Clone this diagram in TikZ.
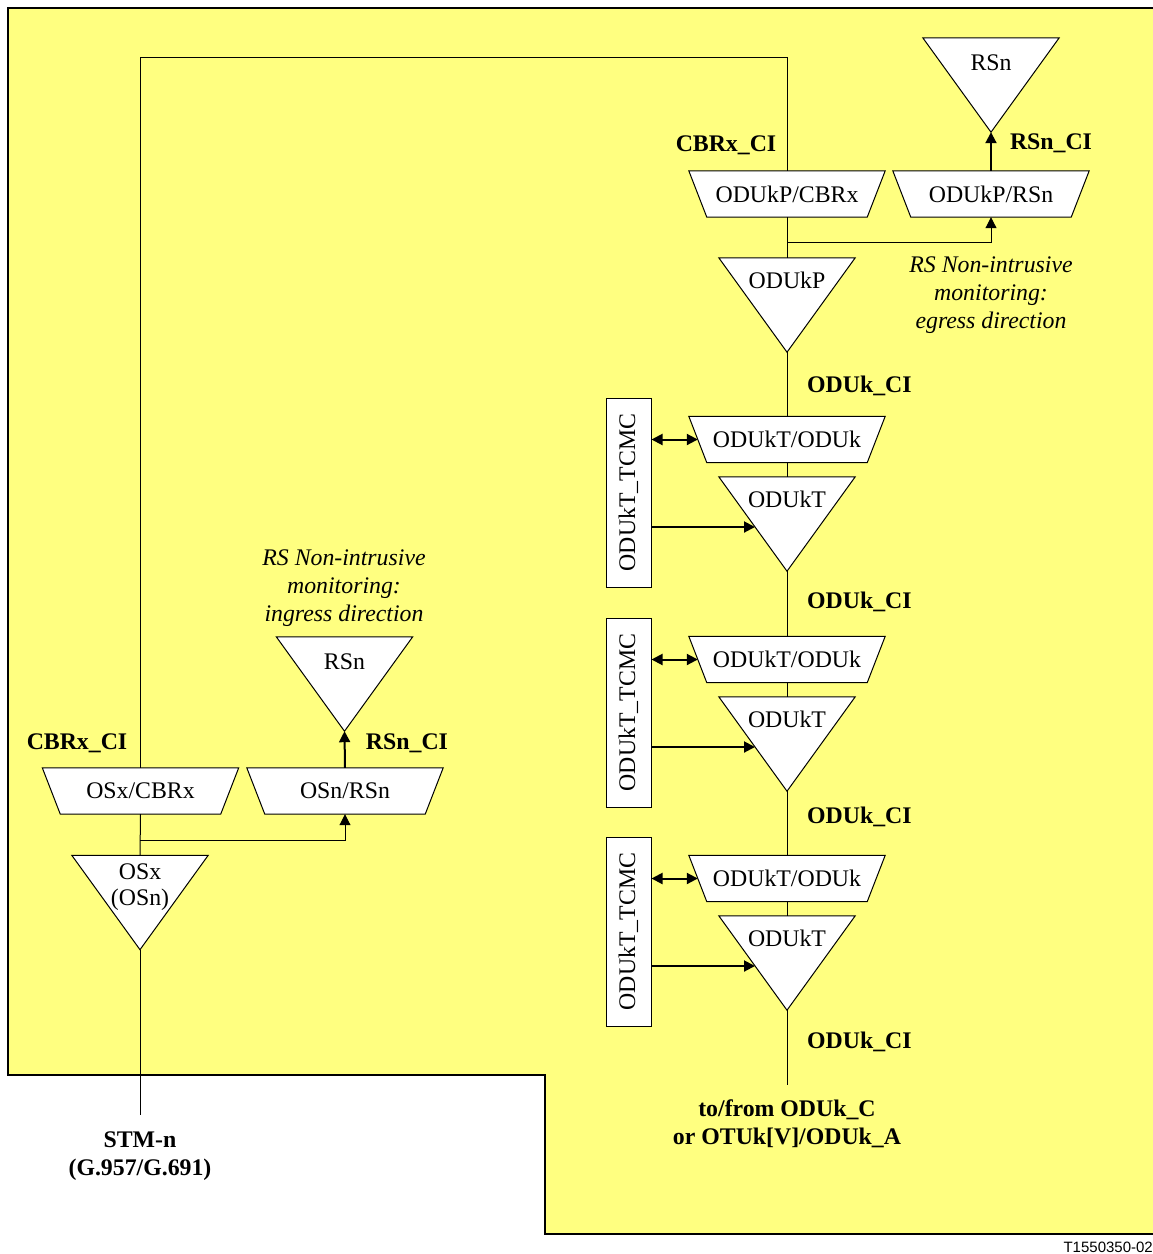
\documentclass[tikz,border=0pt]{standalone}
\usepackage{fontspec}
\setmainfont{Liberation Serif}
\setsansfont{Liberation Sans}
\usetikzlibrary{arrows.meta}
\pgfdeclarelayer{bg}
\pgfdeclarelayer{shp}
\pgfsetlayers{bg,shp,main}
\definecolor{pale}{RGB}{255,255,128}
\newcommand\trapz[4]{%
  \node[trapbox] (#1) at (#2,#3) {#4};
  \begin{pgfonlayer}{shp}
    \draw[outline] (#1.north west) -- (#1.north east) -- ([xshift=-18pt]#1.south east) -- ([xshift=18pt]#1.south west) -- cycle;
  \end{pgfonlayer}}
\newcommand\tria[5]{%
  \node[tribox] (#1) at (#2,#3) {};
  \begin{pgfonlayer}{shp}
    \draw[outline] (#1.north west) -- (#1.north east) -- (#1.south) -- cycle;
  \end{pgfonlayer}
  \node[txt, align=center] (#1t) at ([yshift=-#5pt]#1.north) {#4};}
\begin{document}
\begin{tikzpicture}[x=1pt,y=-1pt,
  txt/.style={font=\fontsize{23.8}{26.5}\selectfont, inner sep=0pt},
  lbl/.style={font=\fontsize{23.8}{27.5}\selectfont\bfseries, inner sep=0pt},
  ital/.style={font=\fontsize{23.8}{28}\selectfont\itshape, inner sep=0pt, align=center},
  trapbox/.style={minimum width=196pt, minimum height=46pt, inner sep=0pt, font=\fontsize{23.8}{28}\selectfont},
  tribox/.style={minimum width=136pt, minimum height=94pt, inner sep=0pt},
  outline/.style={draw=black, line width=1pt, fill=white},
  wire/.style={line width=1pt},
  tip/.tip={Triangle[length=11pt,width=11pt]},
  arr/.style={line width=1pt, -tip},
  thickarr/.style={line width=2pt, -tip},
  dblarr/.style={line width=2pt, tip-tip},
  tcmcbox/.style={draw=black, line width=1pt, fill=white, minimum width=45pt, minimum height=189pt, inner sep=0pt}
]
\useasboundingbox (0,0) rectangle (1153,1254);
\begin{pgfonlayer}{bg}
  \fill[pale] (8,8) -- (1153,8) -- (1153,1234) -- (545,1234) -- (545,1075) -- (8,1075) -- cycle;
  \draw[line width=1.5pt] (1153,8) -- (8,8) -- (8,1075) -- (545,1075) -- (545,1234) -- (1153,1234);
\end{pgfonlayer}

% left column
\trapz{oscbrx}{140.5}{791}{OSx/CBRx}
\trapz{osrsn}{345}{791}{OSn/RSn}
\tria{osx}{140}{902.5}{OSx\\(OSn)}{32}
\tria{rsnl}{344.5}{684}{RSn}{25}
\coordinate (stm) at (140,1115);
\coordinate (brl) at (140,840);
\coordinate (top) at (787,57);

% right column
\trapz{pcbrx}{787}{194}{ODUkP/CBRx}
\trapz{prsn}{991}{194}{ODUkP/RSn}
\tria{rsnr}{991}{85}{RSn}{25}
\tria{odukp}{787}{305}{ODUkP}{23}
\coordinate (brr) at (787,242);
\coordinate (endr) at (787,1085);

\foreach \i/\d in {1/0,2/220,3/439}{
  \trapz{t\i}{787}{439.5+\d}{ODUkT/ODUk}
  \tria{tri\i}{787}{524+\d}{ODUkT}{23}
  \node[tcmcbox] (tc\i) at (628.5,492.5+\d) {};
  \node[txt, rotate=90] (tc\i t) at (tc\i) {ODUkT\_TCMC};
  \draw[wire] (t\i.south) -- (tri\i.north);
  \draw[dblarr] (tc\i.east |- t\i.west) -- ([xshift=9pt]t\i.west);
  \draw[thickarr] ([yshift=-34.5pt]tc\i.east) -- ([xshift=-32pt,yshift=-3pt]tri\i.center);
}

% wires
\draw[wire] (oscbrx.north) |- (top) -- (pcbrx.north);
\draw[wire] (oscbrx.south) -- (osx.north);
\draw[wire] (osx.south) -- (stm);
\draw[arr] (brl) -| (osrsn.south);
\draw[thickarr] (osrsn.north) -- (rsnl.south);
\draw[wire] (pcbrx.south) -- (odukp.north);
\draw[arr] (brr) -| (prsn.south);
\draw[thickarr] (prsn.north) -- (rsnr.south);
\draw[wire] (odukp.south) -- (t1.north);
\draw[wire] (tri1.south) -- (t2.north);
\draw[wire] (tri2.south) -- (t3.north);
\draw[wire] (tri3.south) -- (endr);

% labels
\node[lbl, anchor=base] (l1) at (726,151) {CBRx\_CI};
\node[lbl, anchor=base] (l2) at (1051,149) {RSn\_CI};
\node[lbl, anchor=base west] (l3) at (807,392) {ODUk\_CI};
\node[lbl, anchor=base west] (l4) at (807,608) {ODUk\_CI};
\node[lbl, anchor=base west] (l5) at (807,823) {ODUk\_CI};
\node[lbl, anchor=base west] (l6) at (807,1048) {ODUk\_CI};
\node[lbl, anchor=base] (l7) at (77,749) {CBRx\_CI};
\node[lbl, anchor=base] (l8) at (407,749) {RSn\_CI};
\node[ital] (eg) at (991,295) {RS Non-intrusive\\monitoring:\\egress direction};
\node[ital] (ing) at (344,588) {RS Non-intrusive\\monitoring:\\ingress direction};
\node[lbl, align=center, anchor=north] (stmt) at (140,1132) {STM-n\\(G.957/G.691)};
\node[lbl, align=center, anchor=north] (endt) at (787,1100) {to/from ODUk\_C\\or OTUk[V]/ODUk\_A};
\node[font=\sffamily\fontsize{15}{17}\selectfont, inner sep=0pt, anchor=base east] (ref) at (1153,1252) {T1550350-02};
\end{tikzpicture}
\end{document}
